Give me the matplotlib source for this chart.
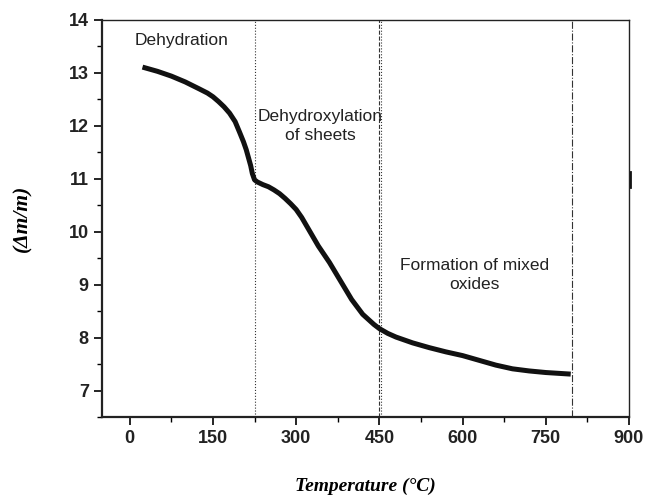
# TGA curve with decomposition stages

import numpy as np
import matplotlib.pyplot as plt

temp = [23, 50, 75, 100, 125, 140, 150, 160, 170, 180, 190, 198, 205, 210,
        214, 218, 221, 225, 230, 240, 250, 260, 270, 280, 290, 300, 310, 320,
        340, 360, 380, 400, 420, 440, 450, 465, 480, 510, 540, 570, 600, 630,
        660, 690, 720, 750, 795]
mass = [13.11, 13.03, 12.94, 12.83, 12.70, 12.62, 12.55, 12.46, 12.36, 12.24,
        12.08, 11.88, 11.70, 11.55, 11.40, 11.25, 11.10, 10.98, 10.94, 10.89,
        10.85, 10.79, 10.72, 10.63, 10.53, 10.42, 10.27, 10.09, 9.73, 9.42,
        9.07, 8.72, 8.44, 8.25, 8.17, 8.08, 8.01, 7.90, 7.81, 7.73, 7.66,
        7.57, 7.48, 7.41, 7.37, 7.34, 7.31]

stage_lines = [225, 450, 453, 797]
stage_styles = [':', '--', ':', '-.']
xticks = [0, 150, 300, 450, 600, 750, 900]
yticks = [7, 8, 9, 10, 11, 12, 13, 14]

fig = plt.figure(figsize=(6.56, 4.95), dpi=100)
ax = fig.add_axes([0.1555, 0.1576, 0.8033, 0.802])

for x, ls in zip(stage_lines, stage_styles):
    ax.axvline(x, color='#333333', lw=0.8, ls=ls)

ax.plot(temp, mass, color='#111111', lw=3.6, solid_capstyle='butt',
        solid_joinstyle='round')

# small mark on the right frame
ax.plot([901, 901], [10.84, 11.13], color='#111111', lw=2, clip_on=False)

ax.text(94, 13.62, 'Dehydration', fontsize=12.5, ha='center', va='center',
        color='#222222', family='Liberation Sans')
ax.text(231, 12.0, 'Dehydroxylation\nof sheets', fontsize=12.5, ha='left',
        va='center', multialignment='center', color='#222222',
        family='Liberation Sans', linespacing=1.3)
ax.text(622, 9.18, 'Formation of mixed\noxides', fontsize=12.5, ha='center',
        va='center', color='#222222', family='Liberation Sans', linespacing=1.3)

ax.set_xlim(-50, 900)
ax.set_ylim(6.5, 14)
ax.set_xticks(xticks)
ax.set_yticks(yticks)
ax.set_xticks(np.arange(75, 900, 150), minor=True)
ax.set_yticks(np.arange(6.5, 14, 1.0), minor=True)
ax.tick_params(which='major', direction='out', length=6, width=1.2)
ax.tick_params(which='minor', direction='out', length=3.5, width=1.0)
for lab in ax.get_xticklabels() + ax.get_yticklabels():
    lab.set_fontsize(13)
    lab.set_fontweight('bold')
    lab.set_family('Liberation Sans')
    lab.set_color('#222222')
for s in ax.spines.values():
    s.set_linewidth(1.0)
    s.set_color('#222222')
ax.spines['left'].set_linewidth(1.6)
ax.spines['bottom'].set_linewidth(1.6)

ax.set_xlabel('Temperature (°C)', fontsize=14, fontweight='bold',
              fontstyle='italic', family='Liberation Serif', labelpad=22)
ax.set_ylabel('(Δm/m)', fontsize=15.5, fontweight='bold', fontstyle='italic',
              family='Liberation Serif', labelpad=26)

plt.savefig('out.png', dpi=100)
